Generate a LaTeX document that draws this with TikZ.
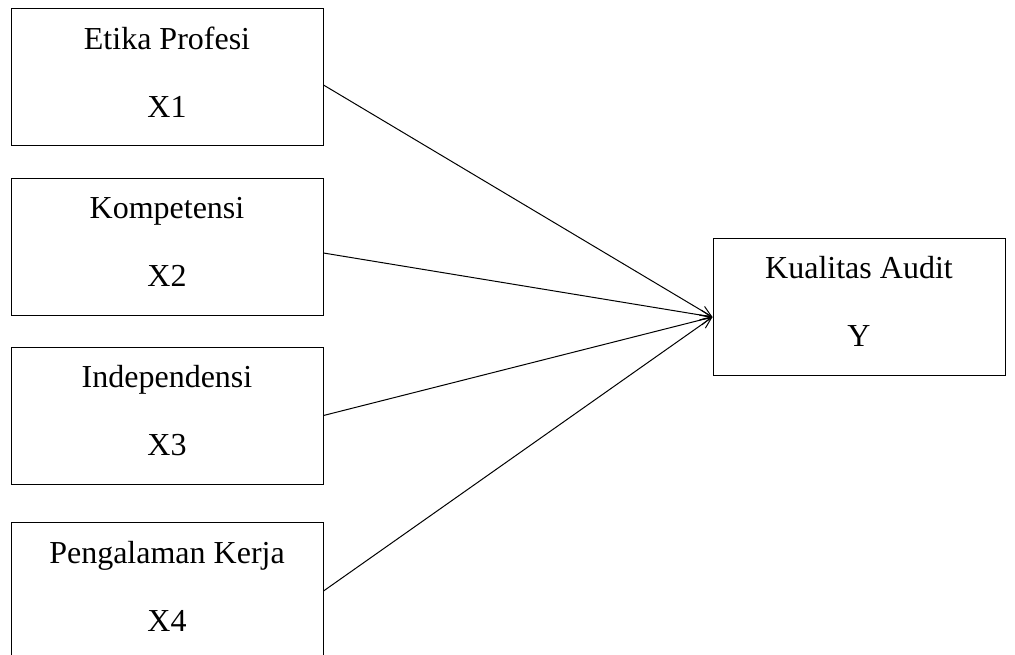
\documentclass[tikz,border=0pt]{standalone}
\usepackage{fontspec}
\setmainfont{Liberation Serif}
\usetikzlibrary{arrows.meta}
\begin{document}
\begin{tikzpicture}[x=1pt,y=-1pt,
  box/.style={draw,line width=1pt,minimum width=312pt,minimum height=137pt,
    align=center,inner sep=0pt,text depth=10pt,font=\fontsize{32}{68}\selectfont},
  link/.style={line width=1pt,-{Straight Barb[length=11pt,width=10pt,line width=1pt]}}]
\useasboundingbox (0,0) rectangle (1015,654);
\clip (0,0) rectangle (1015,654);
\node[box] (b1) at (167,77) {Etika Profesi\\X1};
\node[box] (b2) at (167,246.5) {Kompetensi\\X2};
\node[box] (b3) at (167,415.5) {Independensi\\X3};
\node[box] (b4) at (167,591) {Pengalaman Kerja\\X4};
\node[box,minimum width=292pt] (ky) at (859,306.5) {Kualitas Audit\\Y};
\coordinate (t) at ([yshift=-10.5pt]ky.west);
\draw[link] ([yshift=-8pt]b1.east) -- (t);
\draw[link] ([yshift=-6.5pt]b2.east) -- (t);
\draw[link] (b3.east) -- (t);
\draw[link] (b4.east) -- (t);
\end{tikzpicture}
\end{document}
